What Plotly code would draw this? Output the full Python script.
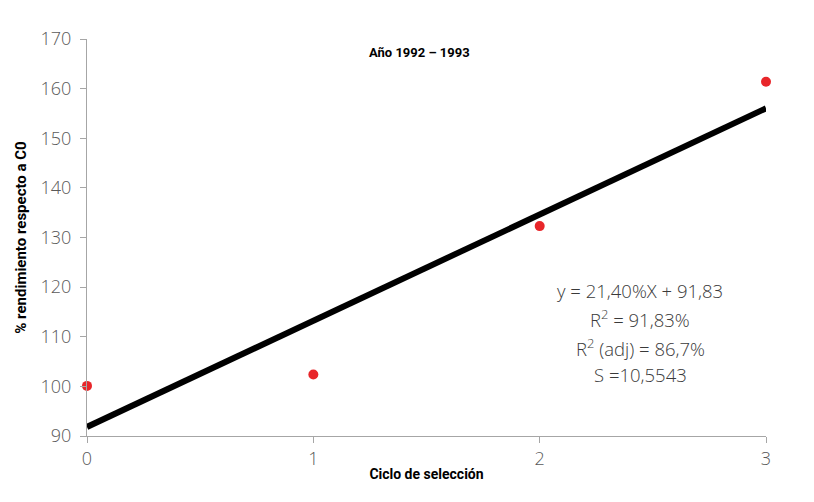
import plotly.graph_objects as go

# ciclo de selección y % rendimiento respecto a C0
ciclo = [0, 1, 2, 3]
rendimiento = [100.1, 102.4, 132.3, 161.4]

# recta de regresión y = 21,40%X + 91,83
pendiente = 21.40
intercepto = 91.83
recta_x = [0, 3]
recta_y = [intercepto + pendiente * x for x in recta_x]

texto_ecuacion = [
    "y = 21,40%X + 91,83",
    "R<sup>2</sup> = 91,83%",
    "R<sup>2</sup> (adj) = 86,7%",
    "S =10,5543",
]

fuente = "Open Sans, Noto Sans, sans-serif"
fuente_narrow = "Liberation Sans Narrow, Roboto, Open Sans, sans-serif"

fig = go.Figure()

fig.add_trace(go.Scatter(
    x=recta_x, y=recta_y, mode="lines",
    line=dict(color="black", width=6),
    showlegend=False, hoverinfo="skip"))

fig.add_trace(go.Scatter(
    x=ciclo, y=rendimiento, mode="markers",
    marker=dict(color="#e8262a", size=10),
    cliponaxis=False, showlegend=False))

# ecuación, una línea por anotación
ys = [119.3, 113.6, 107.9, 102.3]
for t, yy in zip(texto_ecuacion, ys):
    fig.add_annotation(
        x=2.445, y=yy, xanchor="center", yanchor="middle",
        text=t, showarrow=False,
        font=dict(family=fuente, size=18.5, color="#3a3a3a", weight=300))

fig.add_annotation(
    x=0.49, y=(436 - 52) / 397, xref="paper", yref="paper",
    xanchor="center", yanchor="middle",
    text="<b>Año 1992 – 1993</b>", showarrow=False,
    font=dict(family=fuente_narrow, size=13, color="black"))

fig.update_layout(
    width=814, height=502,
    margin=dict(l=79, r=56, t=31, b=74),
    paper_bgcolor="white", plot_bgcolor="white",
    font=dict(family=fuente, color="#595959"),
)

fig.update_xaxes(
    range=[0, 3], tickvals=ciclo, showgrid=False, zeroline=False,
    showline=True, linecolor="#a6a6a6", linewidth=1.3,
    ticks="outside", ticklen=6, tickcolor="#a6a6a6", automargin=False,
    tickfont=dict(family=fuente, size=18, color="#595959", weight=300),
    title=dict(text="<b>Ciclo de selección</b>", standoff=0,
               font=dict(family=fuente_narrow, size=14, color="black")))

fig.update_yaxes(
    range=[90, 170], dtick=10, showgrid=False, zeroline=False,
    showline=True, linecolor="#a6a6a6", linewidth=1.3, automargin=False,
    ticks="outside", ticklen=6, tickcolor="#a6a6a6", ticklabelstandoff=5,
    tickfont=dict(family=fuente, size=18, color="#595959", weight=300),
    title=dict(text="<b>% rendimiento respecto a C0</b>", standoff=10,
               font=dict(family=fuente_narrow, size=15, color="black")))

fig.write_html("out.html")
